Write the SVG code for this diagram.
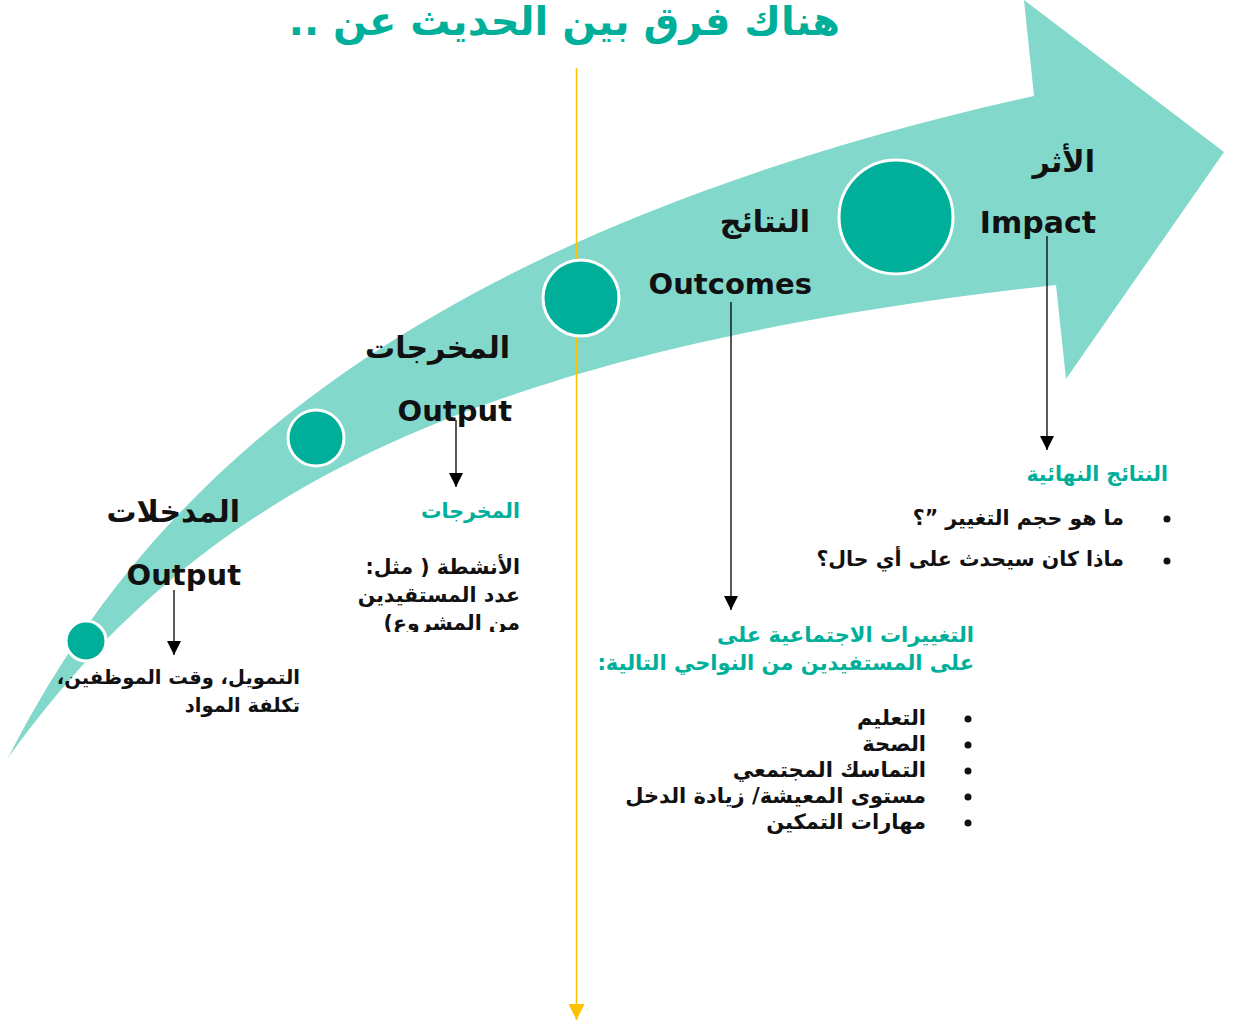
<svg xmlns="http://www.w3.org/2000/svg" width="1238" height="1024" viewBox="0 0 1238 1024">
<defs>
<style>
.ar{font-family:"DejaVu Sans",sans-serif;font-weight:bold;direction:rtl;text-anchor:start}
.en{font-family:"DejaVu Sans",sans-serif;font-weight:bold;text-anchor:end;fill:#111}
.big{font-size:30px;fill:#111}
.sm{font-size:20.5px;fill:#111}
.tl{font-size:20.5px;fill:#00AF9A}
.dot{fill:#00AF9A;stroke:#fff;stroke-width:3}
.con{stroke:#000;stroke-width:1.3;fill:none}
</style>
<marker id="ah" markerWidth="14" markerHeight="14" viewBox="0 0 14 14" refX="14" refY="7" orient="auto" markerUnits="userSpaceOnUse">
<path d="M0,0 L14,7 L0,14 Z" fill="#000"/>
</marker>
<marker id="ay" markerWidth="16" markerHeight="16" viewBox="0 0 16 16" refX="16" refY="8" orient="auto" markerUnits="userSpaceOnUse">
<path d="M0,0 L16,8 L0,16 Z" fill="#FFC000"/>
</marker>
<clipPath id="cl"><rect x="300" y="540" width="240" height="92"/></clipPath>
</defs>
<rect width="1238" height="1024" fill="#fff"/>
<g id="bigarrow">
<path d="M8,758 C120,540 340,250 1034,96 L1024,0 L1224,152 L1066,379 L1056,285 C420,355 180,520 8,758 Z" fill="#82D8CB"/>
</g>
<g id="title">
<text x="840" y="35" class="ar" style="font-size:40px;fill:#00AF9A">هناك فرق بين الحديث عن ..</text>
</g>
<g id="timeline">
<line x1="576.5" y1="68" x2="576.5" y2="1020" stroke="#FFC000" stroke-width="1.5" marker-end="url(#ay)"/>
</g>
<g id="dot1"><circle cx="86" cy="641" r="20" class="dot"/></g>
<g id="dot2"><circle cx="316" cy="438" r="28" class="dot"/></g>
<g id="dot3"><circle cx="581" cy="298" r="38" class="dot"/></g>
<g id="dot4"><circle cx="896" cy="217" r="57" class="dot"/></g>
<g id="connectors">
<line x1="174" y1="590" x2="174" y2="655" class="con" marker-end="url(#ah)"/>
<line x1="456" y1="420" x2="456" y2="487" class="con" marker-end="url(#ah)"/>
<line x1="731" y1="302" x2="731" y2="610" class="con" marker-end="url(#ah)"/>
<line x1="1047" y1="236" x2="1047" y2="450" class="con" marker-end="url(#ah)"/>
</g>
<g id="inputs">
<text x="240" y="522" class="ar big">المدخلات</text>
<text x="241" y="585" class="en" style="font-size:29px">Output</text>
<text x="300" y="684" class="ar sm" style="font-size:19.5px">التمويل، وقت الموظفين،</text>
<text x="300" y="712" class="ar sm" style="font-size:19.5px">تكلفة المواد</text>
</g>
<g id="outputs">
<text x="510" y="358" class="ar big">المخرجات</text>
<text x="512" y="421" class="en" style="font-size:29px">Output</text>
<text x="520" y="518" class="ar tl">المخرجات</text>
<g clip-path="url(#cl)">
<text x="520" y="574" class="ar sm">الأنشطة ( مثل:</text>
<text x="520" y="602" class="ar sm">عدد المستقيدين</text>
<text x="520" y="630" class="ar sm">من المشروع)</text>
</g>
</g>
<g id="outcomes">
<text x="810" y="232" class="ar big">النتائج</text>
<text x="812" y="294" class="en" style="font-size:29px">Outcomes</text>
<text x="974" y="642" class="ar tl" style="font-size:21px">التغييرات الاجتماعية على</text>
<text x="974" y="670" class="ar tl" style="font-size:21px">على المستفيدين من النواحي  التالية:</text>
<circle cx="968" cy="719" r="3.5" fill="#111"/>
<circle cx="968" cy="745" r="3.5" fill="#111"/>
<circle cx="968" cy="771" r="3.5" fill="#111"/>
<circle cx="968" cy="797" r="3.5" fill="#111"/>
<circle cx="968" cy="823" r="3.5" fill="#111"/>
<text x="926" y="725" class="ar sm" style="font-size:21px">التعليم</text>
<text x="926" y="751" class="ar sm" style="font-size:21px">الصحة</text>
<text x="926" y="777" class="ar sm" style="font-size:21px">التماسك المجتمعي</text>
<text x="926" y="803" class="ar sm" style="font-size:21px">مستوى المعيشة/ زيادة الدخل</text>
<text x="926" y="829" class="ar sm" style="font-size:21px">مهارات التمكين</text>
</g>
<g id="impact">
<text x="1095" y="172" class="ar big">الأثر</text>
<text x="1096" y="233" class="en" style="font-size:30px">Impact</text>
<text x="1168" y="481" class="ar tl">النتائج النهائية</text>
<circle cx="1167" cy="519" r="3.5" fill="#111"/>
<circle cx="1167" cy="561" r="3.5" fill="#111"/>
<text x="1124" y="525" class="ar sm">ما هو حجم التغيير ”؟</text>
<text x="1124" y="566" class="ar sm">ماذا كان سيحدث على أي حال؟</text>
</g>
</svg>
